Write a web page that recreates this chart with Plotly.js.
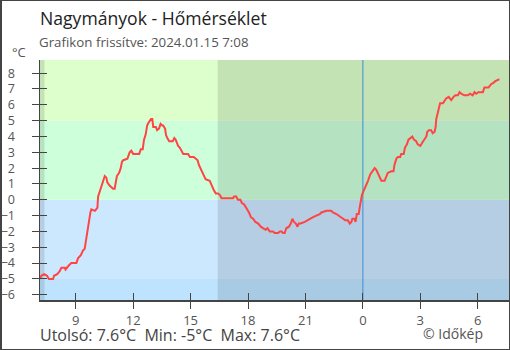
<!DOCTYPE html>
<html>
<head>
<meta charset="utf-8">
<script src="https://cdn.plot.ly/plotly-3.0.1.min.js"></script>
<style>
  html, body { margin: 0; padding: 0; background: #fff; }
  #wrap { position: relative; width: 510px; height: 350px; }
  #chart { width: 510px; height: 350px; }
  #frame { position: absolute; left: 0; top: 0; width: 510px; height: 350px; box-sizing: border-box;
           border: 1px solid #444; border-left-width: 2px; pointer-events: none; }
</style>
</head>
<body>
<div id="wrap"><div id="chart"></div><div id="frame"></div></div>
<script>
// ---- data ----
const times = [
  "07:08","07:12","07:21","07:30","07:36","07:49","07:52","08:02","08:10","08:15","08:26","08:28","08:36","08:41","08:46",
  "09:02","09:07","09:16","09:23","09:28","09:33","09:36","09:39","09:42","09:46","09:49","10:00","10:04","10:08","10:10",
  "10:13","10:18","10:22","10:28","10:31","10:36","10:39","10:46","10:51","10:57","11:02","11:04","11:09","11:16","11:21",
  "11:25","11:29","11:42","11:49","11:54","12:00","12:19","12:24","12:30","12:34","12:39","12:44","12:49","12:56","13:00",
  "13:03","13:11","13:15","13:21","13:26","13:31","13:34","13:40","13:43","13:47","13:53","14:04","14:09","14:13","14:16",
  "14:21","14:26","14:32","14:37","14:52","14:58","15:10","15:16","15:22","15:26","15:31","15:36","15:42","15:47","16:00",
  "16:04","16:08","16:13","16:19","16:26","16:32","16:37","17:13","17:16","17:23","17:28","17:36","17:41","17:48","17:55",
  "18:03","18:09","18:16","18:23","18:32","18:40","18:48","18:55","19:01","19:08","19:18","19:24","19:34","19:40","19:45",
  "19:50","19:55","20:00","20:08","20:14","20:19","20:24","20:30","20:35","20:39","20:45","20:58","21:06","21:13","21:24",
  "21:34","21:45","21:50","22:06","22:21","22:26","22:37","22:44","22:53","22:58","23:05","23:13","23:19","23:24","23:27",
  "23:34","23:37","23:41","23:47","23:50","23:53","23:57","00:01","00:06","00:11","00:16","00:23","00:30","00:37","00:42",
  "00:47","00:52","00:58","01:08","01:13","01:18","01:29","01:36","01:39","01:45","01:50","01:57","02:00","02:08","02:12",
  "02:18","02:23","02:30","02:35","02:40","02:47","02:52","03:00","03:06","03:14","03:19","03:22","03:27","03:34","03:39",
  "03:45","03:48","03:50","03:55","03:58","04:02","04:11","04:16","04:21","04:29","04:37","04:44","04:50","04:58","05:03",
  "05:08","05:18","05:29","05:36","05:44","05:50","05:55","06:02","06:16","06:21","06:34","06:42","06:50","06:55","07:06",
  "07:08"
];
const temps = [
  -5.0,-4.8,-4.7,-4.8,-5.0,-5.0,-4.8,-4.7,-4.5,-4.3,-4.3,-4.4,-4.2,-4.1,-4.0,
  -4.0,-3.7,-3.5,-3.2,-3.1,-2.4,-2.2,-1.7,-1.2,-0.8,-0.6,-0.7,-0.6,-0.5,0.2,
  0.4,0.7,1.0,1.4,1.5,1.4,1.1,0.9,0.8,0.7,0.7,0.9,1.5,1.7,2.0,
  2.4,2.5,2.6,3.0,3.1,2.9,2.9,3.2,3.2,3.8,4.1,4.7,4.9,5.1,5.1,
  4.6,4.6,4.4,4.5,4.8,4.7,4.7,4.5,4.1,3.9,3.7,3.7,3.9,3.8,3.6,
  3.4,3.3,3.1,2.9,2.9,2.7,2.7,2.6,2.5,2.2,2.0,1.8,1.6,1.3,1.2,
  1.0,0.8,0.6,0.4,0.4,0.3,0.1,0.1,0.2,0.2,0.0,0.0,-0.2,-0.3,-0.5,
  -0.8,-1.1,-1.2,-1.4,-1.5,-1.7,-1.8,-1.9,-1.8,-2.0,-2.0,-2.1,-2.1,-2.0,-2.0,
  -2.1,-2.1,-1.8,-1.7,-1.5,-1.2,-1.4,-1.5,-1.7,-1.5,-1.5,-1.4,-1.3,-1.2,-1.1,
  -1.0,-0.9,-0.8,-0.7,-0.7,-0.8,-0.9,-1.0,-1.1,-1.2,-1.3,-1.3,-1.5,-1.4,-1.2,
  -1.2,-1.4,-0.9,-0.9,-0.5,0.0,0.3,0.5,0.7,1.0,1.2,1.6,1.8,2.0,1.9,
  1.7,1.4,1.2,1.2,1.5,1.7,1.8,1.8,2.2,2.6,2.7,2.7,2.9,2.9,3.3,
  3.5,3.8,3.9,4.0,3.8,3.7,3.5,3.4,3.6,3.9,4.0,4.3,4.4,4.4,4.2,
  4.3,4.6,5.1,5.5,5.9,6.1,6.1,6.3,6.4,6.5,6.3,6.5,6.6,6.6,6.8,
  6.7,6.6,6.6,6.7,6.6,6.8,6.7,6.8,6.8,7.1,7.1,7.3,7.4,7.5,7.6,
  7.6
];
const startDay = "2024-01-14";
const nextDay = "2024-01-15";
const xRange = ["2024-01-14 07:08", "2024-01-15 07:38"];
const tickTimes = ["2024-01-14 09:00","2024-01-14 12:00","2024-01-14 15:00","2024-01-14 18:00",
                   "2024-01-14 21:00","2024-01-15 00:00","2024-01-15 03:00","2024-01-15 06:00"];
const tickLabels = ["9","12","15","18","21","0","3","6"];
const yTicks = [-6,-5,-4,-3,-2,-1,0,1,2,3,4,5,6,7,8];
const yRange = [-6.33, 8.83];
const sunrise = "2024-01-14 07:22";
const sunset = "2024-01-14 16:25";
const midnight = "2024-01-15 00:00";
const bandLimits = [-10, -5, 0, 5, 20];
const bandColors = ["#bde3fe", "#cce8ff", "#ccffda", "#ddffcc"];
const titleText = "Nagymányok - Hőmérséklet";
const subtitleText = "Grafikon frissítve: 2024.01.15 7:08";
const footerText = "Utolsó: 7.6°C  Min: -5°C  Max: 7.6°C";

// build datetime strings (day rolls over when the clock wraps)
let day = startDay, prevH = -1;
const xs = times.map(t => {
  const h = parseInt(t.slice(0, 2), 10);
  if (h < prevH) day = nextDay;
  prevH = h;
  return day + " " + t;
});

const FONT = "Open Sans, Noto Sans, sans-serif";
const shapes = [];
for (let i = 0; i < bandColors.length; i++) {
  shapes.push({type: "rect", xref: "paper", yref: "y", x0: 0, x1: 1,
    y0: bandLimits[i], y1: bandLimits[i + 1], fillcolor: bandColors[i], line: {width: 0}, layer: "below"});
}
shapes.push({type: "rect", xref: "x", yref: "paper", x0: xRange[0], x1: sunrise, y0: 0, y1: 1,
  fillcolor: "rgba(0,0,0,0.11)", line: {width: 0}, layer: "below"});
shapes.push({type: "rect", xref: "x", yref: "paper", x0: sunset, x1: xRange[1], y0: 0, y1: 1,
  fillcolor: "rgba(0,0,0,0.11)", line: {width: 0}, layer: "below"});
shapes.push({type: "line", xref: "x", yref: "paper", x0: midnight, x1: midnight, y0: 0, y1: 1,
  line: {color: "#3a8ed8", width: 1}, layer: "below"});

const data = [
  {x: xs, y: temps, type: "scatter", mode: "lines", line: {color: "#ff4444", width: 2}, hoverinfo: "skip"},
  {x: [], y: [], xaxis: "x2", yaxis: "y2", type: "scatter", mode: "lines", hoverinfo: "skip", showlegend: false}
];

const axisCommon = {showgrid: false, zeroline: false, ticklen: 7, tickcolor: "#444", tickwidth: 1,
  showline: true, linecolor: "#444", linewidth: 1.5, fixedrange: true, automargin: false};

const layout = {
  width: 510, height: 350,
  margin: {l: 40, r: 1, t: 60, b: 50},
  paper_bgcolor: "#fff", plot_bgcolor: "rgba(0,0,0,0)",
  showlegend: false,
  font: {family: FONT, color: "#555", size: 13},
  title: {text: titleText, font: {family: FONT, size: 17.6, color: "#222"},
    x: 40 / 510, xanchor: "left", xref: "container", y: 1 - 18.5 / 350, yanchor: "middle", yref: "container"},
  xaxis: Object.assign({}, axisCommon, {type: "date", range: xRange, tickvals: tickTimes, ticktext: tickLabels,
    ticks: "outside", ticklabelstandoff: 1, tickfont: {size: 13, color: "#555"}}),
  yaxis: Object.assign({}, axisCommon, {range: yRange, tickvals: yTicks, ticks: "outside",
    ticklabelstandoff: 14, tickfont: {size: 12.5, color: "#555"}}),
  xaxis2: Object.assign({}, axisCommon, {type: "date", range: xRange, tickvals: tickTimes, ticks: "inside",
    showticklabels: false, overlaying: "x", anchor: "y2", showline: false}),
  yaxis2: Object.assign({}, axisCommon, {range: yRange, tickvals: yTicks, ticks: "inside",
    showticklabels: false, overlaying: "y", anchor: "x2", showline: false}),
  shapes: shapes,
  annotations: [
    {text: subtitleText, xref: "paper", yref: "paper", x: -3 / 469, y: (300 - 42) / 240, xanchor: "left", yanchor: "middle",
      showarrow: false, font: {family: FONT, size: 13.3, color: "#555"}},
    {text: "°C", xref: "paper", yref: "paper", x: (18.5 - 40) / 469, y: (300 - 52) / 240, xanchor: "center", yanchor: "middle",
      showarrow: false, font: {family: FONT, size: 13, color: "#555"}},
    {text: footerText, xref: "paper", yref: "paper", x: -2 / 469, y: (300 - 335) / 240, xanchor: "left", yanchor: "middle",
      showarrow: false, font: {family: FONT, size: 16, color: "#444"}},
    {text: "© Időkép", xref: "paper", yref: "paper", x: (453.4 - 40) / 469, y: (300 - 333) / 240, xanchor: "center", yanchor: "middle",
      showarrow: false, font: {family: FONT, size: 14, color: "#555"}}
  ]
};

Plotly.newPlot("chart", data, layout, {staticPlot: true, displayModeBar: false});
</script>
</body>
</html>
